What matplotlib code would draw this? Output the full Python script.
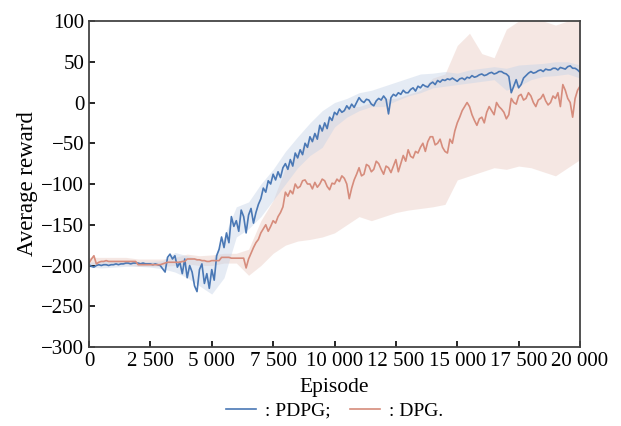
import numpy as np
import matplotlib.pyplot as plt

plt.rcParams['font.family'] = ['Liberation Serif', 'DejaVu Serif']
plt.rcParams['font.size'] = 15

# mean curves, one value every 100 episodes (rows of 1000 episodes)
episodes = np.arange(0, 20001, 100)
pdpg = [-199, -201, -202, -200, -199, -200, -199, -199, -200, -199,
        -199, -198, -199, -198, -198, -197, -197, -198, -197, -197,
        -197, -198, -197, -198, -198, -198, -199, -198, -199, -200,
        -204, -208, -190, -186, -192, -188, -202, -196, -210, -192,
        -215, -200, -208, -225, -232, -205, -198, -222, -210, -228,
        -205, -218, -188, -180, -165, -178, -160, -172, -140, -152,
        -145, -158, -132, -140, -160, -138, -130, -148, -135, -125,
        -118, -105, -110, -96, -100, -88, -95, -85, -92, -80,
        -75, -82, -70, -78, -62, -68, -58, -64, -50, -55,
        -42, -48, -38, -45, -28, -35, -25, -32, -18, -22,
        -12, -15, -8, -12, -10, -4, -8, -2, -6, 0,
        6, 2, 0, 4, 3, -2, -4, 2, 5, 3,
        8, 4, -14, 6, 10, 8, 12, 10, 15, 12,
        12, 16, 18, 14, 20, 18, 22, 20, 19, 23,
        25, 22, 27, 25, 28, 27, 29, 28, 30, 28,
        26, 29, 30, 28, 31, 30, 33, 31, 32, 34,
        35, 33, 34, 36, 37, 35, 36, 38, 38, 36,
        35, 32, 12, 20, 28, 18, 22, 30, 33, 36,
        38, 36, 37, 39, 40, 38, 41, 40, 40, 42,
        42, 40, 43, 42, 41, 44, 45, 42, 42, 40,
        37]
dpg = [-197, -192, -188, -198, -196, -195, -195, -194, -195, -195,
       -195, -195, -195, -195, -195, -195, -195, -195, -195, -195,
       -199, -199, -199, -199, -199, -199, -199, -199, -199, -199,
       -198, -197, -196, -196, -196, -196, -196, -196, -195, -195,
       -192, -192, -192, -192, -193, -193, -194, -194, -195, -195,
       -194, -194, -194, -194, -190, -190, -190, -190, -191, -191,
       -191, -191, -191, -191, -203, -192, -185, -178, -172, -168,
       -160, -155, -150, -158, -152, -145, -148, -140, -135, -128,
       -110, -115, -108, -112, -100, -105, -103, -96, -95, -100,
       -100, -106, -98, -104, -100, -94, -96, -103, -107, -99,
       -100, -94, -97, -90, -93, -100, -118, -105, -95, -88,
       -80, -90, -88, -76, -78, -85, -82, -72, -75, -82,
       -88, -78, -80, -86, -78, -70, -85, -75, -65, -72,
       -58, -66, -68, -60, -62, -55, -50, -60, -48, -42,
       -42, -52, -50, -45, -55, -60, -62, -45, -50, -35,
       -25, -18, -10, -5, 0, -5, -15, -22, -28, -20,
       -18, -25, -12, -5, -10, -15, 0, -5, -8, -12,
       -20, -15, 5, 0, -2, 8, 10, 3, 5, 12,
       8, 0, -5, 3, 5, 10, 2, -3, 0, 8,
       5, 12, -5, 22, 15, 5, 0, -18, 5, 15,
       20]

# spread bands, one value every 500 episodes
band_eps = np.arange(0, 20001, 500)
dpg_low = [-200, -200, -199, -199, -201, -201, -201, -200, -198, -200,
           -200, -197, -197, -212, -200, -185, -175, -170, -168, -165,
           -160, -150, -140, -145, -140, -135, -132, -130, -128, -125,
           -95, -90, -85, -80, -82, -78, -80, -85, -90, -80, -70]
dpg_high = [-190, -190, -190, -190, -192, -192, -192, -190, -186, -188,
            -187, -185, -185, -180, -145, -120, -80, -60, -45, -30,
            -15, -5, -5, 0, 5, 5, 10, 15, 30, 35,
            70, 85, 60, 55, 90, 100, 100, 100, 95, 100, 100]
pdpg_low = [-202, -203, -202, -201, -201, -202, -204, -208, -215, -225,
            -235, -215, -165, -155, -140, -120, -100, -80, -65, -55,
            -30, -18, -10, -5, -5, 2, 8, 12, 18, 20,
            22, 24, 26, 28, 15, 20, 28, 32, 33, 35, 30]
pdpg_high = [-196, -195, -194, -194, -195, -195, -194, -184, -188, -192,
             -195, -165, -128, -122, -100, -82, -60, -42, -25, -10,
             0, 5, 12, 15, 20, 25, 30, 35, 36, 38,
             36, 40, 42, 44, 42, 46, 47, 48, 50, 50, 46]

blue = '#4a78b5'
red = '#d68c7c'

fig = plt.figure(figsize=(6.21, 4.26), dpi=100)
ax = fig.add_axes([0.1433, 0.1854, 0.7907, 0.7653])

ax.fill_between(band_eps, dpg_low, dpg_high, color='#f3e2dd', alpha=0.8, lw=0)
ax.fill_between(band_eps, pdpg_low, pdpg_high, color='#c6d4e8', alpha=0.45, lw=0)
ax.plot(episodes, pdpg, color=blue, lw=1.2, label=': PDPG;')
ax.plot(episodes, dpg, color=red, lw=1.2, label=': DPG.')

ax.set_xlim(0, 20000)
ax.set_ylim(-300, 100)
xt = [0, 2500, 5000, 7500, 10000, 12500, 15000, 17500, 20000]
ax.set_xticks(xt)
ax.set_xticklabels([f'{v:,}'.replace(',', ' ') for v in xt])
yt = [-300, -250, -200, -150, -100, -50, 0, 50, 100]
ax.set_yticks(yt)
ax.set_yticklabels([str(v).replace('-', '\u2212') for v in yt])
ax.tick_params(direction='in', length=4, width=1.2, top=False, right=False)
for s in ax.spines.values():
    s.set_color('#444444')
    s.set_linewidth(1.3)

ax.set_xlabel('Episode', fontsize=15.5, labelpad=5)
ax.set_ylabel('Average reward', fontsize=16.5, labelpad=2)
ax.legend(loc='upper center', bbox_to_anchor=(0.5, -0.145), ncol=2, frameon=False,
          fontsize=14, handlelength=1.55, handletextpad=0.45, columnspacing=1.0,
          borderaxespad=0)

fig.savefig('out.png', dpi=100)
